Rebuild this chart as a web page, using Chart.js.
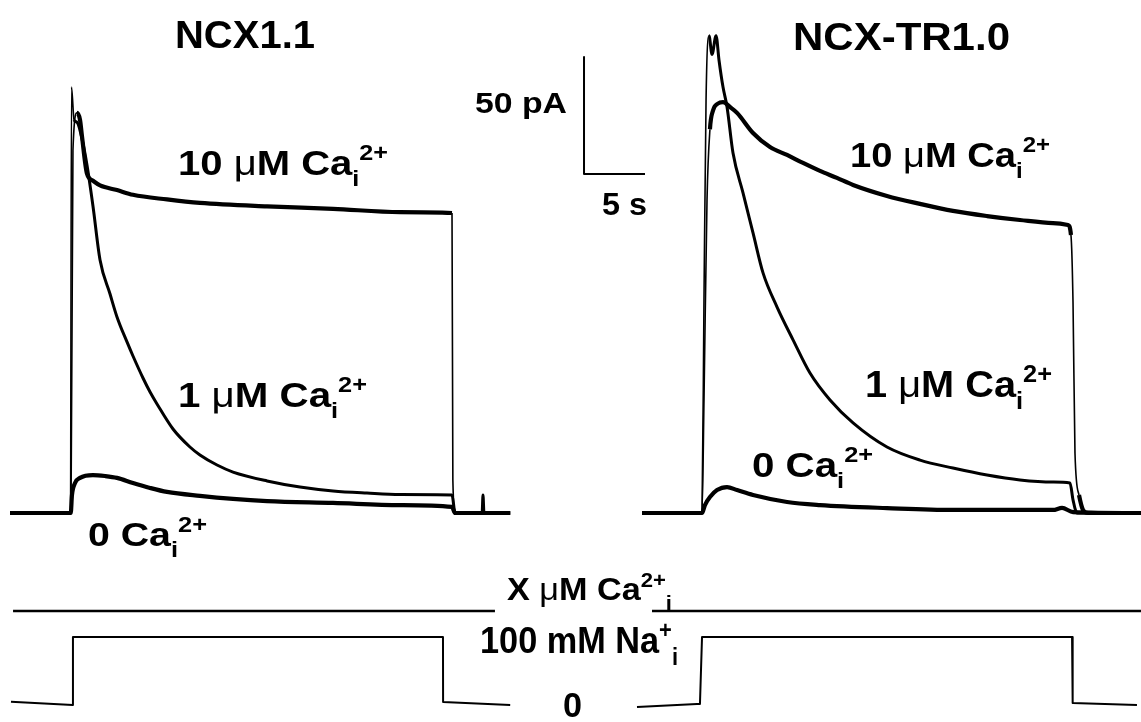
<!DOCTYPE html>
<html><head><meta charset="utf-8">
<script src="https://cdn.jsdelivr.net/npm/chart.js@4.4.1/dist/chart.umd.min.js"></script>
<style>html,body{margin:0;padding:0;background:#fff;}canvas{display:block}</style>
</head><body>
<canvas id="c" width="1141" height="722"></canvas>
<script>
// ---------- DATA (time in s from start of each record, current in pA) ----------
// NCX1.1
const ncx11_t_10uM = [0, 4.9, 5.0, 5.16, 5.49, 5.74, 5.9, 6.31, 6.8, 7.38, 8.77, 10.08, 12.87, 15.57, 21.07, 26.48, 31.97, 36.23, 36.3, 36.5, 41.0];
const ncx11_I_10uM = [0, 0, 0, 155, 171, 168, 161, 145, 142, 140, 138, 136, 134, 132.5, 131, 130, 128.6, 128.2, 14, 0, 0];
const ncx11_t_1uM  = [0, 4.96, 5.04, 5.25, 5.49, 5.98, 6.31, 6.8, 7.38, 8.2, 8.77, 9.59, 10.08, 10.9, 11.48, 12.05, 13.36, 14.75, 15.57, 16.97, 18.28, 21.07, 23.77, 26.48, 29.26, 31.97, 36.23, 36.48, 38.7, 38.77, 38.85, 41.0];
const ncx11_I_1uM  = [0, 0, 182, 168, 167, 158, 148.7, 131.2, 108.1, 93.6, 83.8, 73.1, 67.1, 57.7, 51.7, 46.6, 35.9, 28.2, 24.8, 20.5, 17.5, 13.7, 11.1, 9.4, 8.5, 7.9, 7.7, 0, 0, 7.7, 0, 0];
const ncx11_t_0Ca  = [0, 4.98, 5.08, 5.33, 5.74, 6.8, 7.79, 8.77, 10.08, 11.48, 12.87, 15.57, 18.28, 21.07, 26.48, 31.97, 36.23, 36.48, 41.0];
const ncx11_I_0Ca  = [0, 0, 7.7, 12.8, 15, 16.2, 15.8, 15, 12.8, 10.7, 9.0, 7.3, 6.0, 5.1, 4.3, 3.4, 2.6, 0, 0];
// NCX-TR1.0
const tr10_t_10uM = [0, 4.92, 5.08, 5.33, 5.57, 5.82, 6.23, 6.64, 7.21, 7.79, 9.1, 10.49, 11.89, 13.2, 14.59, 15.98, 17.3, 20.08, 22.79, 25.49, 28.28, 30.98, 33.69, 34.92, 35.16, 35.33, 35.49, 35.82, 36.15, 36.56, 40.9];
const tr10_I_10uM = [0, 0, 48, 134, 164, 172, 175, 175.6, 173.5, 171, 162.4, 156.4, 153, 149.6, 146.2, 143.2, 140.2, 135.5, 132.1, 129.1, 126.9, 125.2, 123.9, 123.1, 118.8, 89.7, 25.6, 7.7, 1.3, 0, 0];
const tr10_t_1uM  = [0, 4.92, 5.08, 5.25, 5.49, 5.74, 6.07, 6.31, 6.64, 6.97, 7.46, 8.28, 9.1, 9.92, 11.07, 12.38, 13.77, 15.41, 17.3, 20.08, 22.79, 25.49, 28.28, 30.98, 33.69, 35.08, 35.33, 35.66, 40.9];
const tr10_I_1uM  = [0, 0, 91, 176.5, 204, 196, 204, 193.6, 182, 173.5, 153.8, 136.8, 119.7, 102.6, 88, 74, 59.8, 48.3, 38.5, 28.2, 22.6, 19.2, 16.2, 14.1, 13.2, 12.8, 5.6, 0, 0];
const tr10_t_0Ca  = [0, 4.92, 5.16, 5.57, 6.15, 6.97, 7.79, 9.1, 11.89, 14.59, 20.08, 25.49, 33.69, 34.43, 35.33, 40.9];
const tr10_I_0Ca  = [0, 0, 3.4, 6.8, 9.8, 11.1, 9.8, 7.7, 4.7, 3.4, 2.1, 1.3, 1.3, 2.2, 0.4, 0];
// Solution protocol (mM Na+ and Ca2+ presence)
const na_left_t  = [0.08, 5.14, 5.16, 35.49, 35.5, 41.0];
const na_left_mM = [2, -3, 100, 100, 1.5, -3];
const na_right_t  = [-0.41, 4.51, 4.75, 4.92, 35.25, 35.3, 40.57];
const na_right_mM = [-6, -1.5, -1.5, 100, 100, 0, -3];
const ca_left_t  = [0.25, 39.75];
const ca_right_t = [0.82, 40.9];
const ca_on = [1, 1];
// Scale bar
const scaleBar_pA = 50, scaleBar_s = 5;

// ---------- LAYOUT ----------
const W = 1141, H = 722;
const PX_PER_S = 12.2, PX_PER_PA = 2.34, BASE_PX = 513;
const LEFT_T0 = 10 / PX_PER_S, RIGHT_T0 = 642 / PX_PER_S;
const NA_PX_PER_MM = 0.66, NA0_PX = 703;
const CA_PX_PER_U = 29, CA0_PX = 640;
const SB_T = 47.87, SB_I = 144.9;
const THICK = 4.2, MID = 3.0, THIN = 1.6;

const pts = (t, v, off) => t.map((x, i) => ({x: x + off, y: v[i]}));
const steep = w => ctx => {
  const dx = Math.abs(ctx.p1.x - ctx.p0.x), dy = Math.abs(ctx.p1.y - ctx.p0.y);
  return (dy > 20 && dy > 9 * dx) ? THIN : w;
};
function trace(t, v, off, w) {
  return {data: pts(t, v, off), yAxisID: 'y', borderWidth: w, borderColor: '#000',
          cubicInterpolationMode: 'monotone', segment: {borderWidth: steep(w)}};
}
function proto(t, v, off, axis, w) {
  return {data: pts(t, v, off), yAxisID: axis, borderWidth: w, borderColor: '#000', tension: 0};
}

const datasets = [
  trace(ncx11_t_0Ca, ncx11_I_0Ca, LEFT_T0, THICK),
  trace(ncx11_t_1uM, ncx11_I_1uM, LEFT_T0, MID),
  trace(ncx11_t_10uM, ncx11_I_10uM, LEFT_T0, THICK),
  trace(tr10_t_0Ca, tr10_I_0Ca, RIGHT_T0, THICK),
  trace(tr10_t_1uM, tr10_I_1uM, RIGHT_T0, MID),
  trace(tr10_t_10uM, tr10_I_10uM, RIGHT_T0, THICK),
  proto(na_left_t, na_left_mM, LEFT_T0, 'yNa', 2),
  proto(na_right_t, na_right_mM, RIGHT_T0, 'yNa', 2),
  proto(ca_left_t, ca_on, LEFT_T0, 'yCa', 2.4),
  proto(ca_right_t, ca_on, RIGHT_T0, 'yCa', 2.4),
  {data: [{x: SB_T, y: SB_I + scaleBar_pA}, {x: SB_T, y: SB_I}, {x: SB_T + scaleBar_s, y: SB_I}],
   yAxisID: 'y', borderWidth: 2, borderColor: '#000', tension: 0}
];

// ---------- TEXT ----------
const FONT = '"Liberation Sans", Arial, Helvetica, sans-serif';
// parts: [text, kind] kind: b bold, n normal (symbol mu), sub, sup
const labels = [
  {x: 175, y: 48, size: 39, w: 140, parts: [['NCX1.1', 'b']]},
  {x: 793, y: 50, size: 39, w: 217, parts: [['NCX-TR1.0', 'b']]},
  {x: 475, y: 113, size: 30, w: 92, parts: [['50 pA', 'b']]},
  {x: 602, y: 215, size: 32, w: 45, parts: [['5 s', 'b']]},
  {x: 178, y: 175, size: 35, w: 210, parts: [['10 ', 'b'], ['\u03bc', 'n'], ['M Ca', 'b'], ['i', 'sub'], ['2+', 'sup']]},
  {x: 178, y: 407, size: 35, w: 189, parts: [['1 ', 'b'], ['\u03bc', 'n'], ['M Ca', 'b'], ['i', 'sub'], ['2+', 'sup']]},
  {x: 88, y: 546, size: 34, w: 119, parts: [['0 Ca', 'b'], ['i', 'sub'], ['2+', 'sup']]},
  {x: 850, y: 167, size: 35, w: 200, parts: [['10 ', 'b'], ['\u03bc', 'n'], ['M Ca', 'b'], ['i', 'sub'], ['2+', 'sup']]},
  {x: 865, y: 397, size: 36, w: 187, parts: [['1 ', 'b'], ['\u03bc', 'n'], ['M Ca', 'b'], ['i', 'sub'], ['2+', 'sup']]},
  {x: 752, y: 477, size: 35, w: 121, parts: [['0 Ca', 'b'], ['i', 'sub'], ['2+', 'sup']]},
  {x: 507, y: 600, size: 31, w: 165, parts: [['X ', 'b'], ['\u03bc', 'n'], ['M Ca', 'b'], ['2+', 'sup'], ['i', 'sub']]},
  {x: 480, y: 653, size: 36, w: 198, parts: [['100 mM Na', 'b'], ['+', 'sup'], ['i', 'sub']]},
  {x: 563, y: 717, size: 35, w: 19, parts: [['0', 'b']]}
];
function partFont(k, s) {
  if (k === 'b') return `bold ${s}px ${FONT}`;
  if (k === 'n') return `${s}px ${FONT}`;
  return `bold ${Math.round(s * 0.64)}px ${FONT}`;
}
function drawRich(ctx, L) {
  let nat = 0;
  for (const [t, k] of L.parts) { ctx.font = partFont(k, L.size); nat += ctx.measureText(t).width; }
  const sx = L.w / nat;
  ctx.save();
  ctx.translate(L.x, L.y);
  ctx.scale(sx, 1);
  ctx.fillStyle = '#000';
  ctx.textBaseline = 'alphabetic';
  let cx = 0;
  for (const [t, k] of L.parts) {
    ctx.font = partFont(k, L.size);
    const dy = k === 'sub' ? L.size * 0.32 : (k === 'sup' ? -L.size * 0.42 : 0);
    ctx.fillText(t, cx, dy);
    cx += ctx.measureText(t).width;
  }
  ctx.restore();
}
const textPlugin = {
  id: 'figText',
  afterDraw(chart) { const ctx = chart.ctx; labels.forEach(L => drawRich(ctx, L)); }
};

new Chart(document.getElementById('c'), {
  type: 'line',
  data: {datasets},
  options: {
    responsive: false, animation: false, events: [],
    layout: {padding: 0},
    plugins: {legend: {display: false}, tooltip: {enabled: false}, title: {display: false}},
    elements: {point: {radius: 0}, line: {borderCapStyle: 'butt', borderJoinStyle: 'round', fill: false}},
    scales: {
      x: {type: 'linear', display: false, min: 0, max: W / PX_PER_S},
      y: {type: 'linear', display: false, min: -(H - BASE_PX) / PX_PER_PA, max: BASE_PX / PX_PER_PA},
      yNa: {type: 'linear', display: false, min: -(H - NA0_PX) / NA_PX_PER_MM, max: NA0_PX / NA_PX_PER_MM},
      yCa: {type: 'linear', display: false, min: -(H - CA0_PX) / CA_PX_PER_U, max: CA0_PX / CA_PX_PER_U}
    }
  },
  plugins: [textPlugin]
});
</script>
</body></html>
